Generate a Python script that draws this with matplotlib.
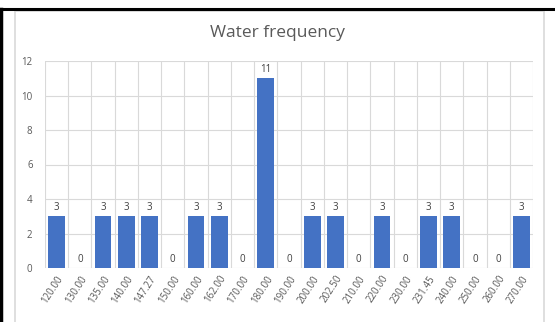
import matplotlib
matplotlib.use("Agg")
import matplotlib.pyplot as plt
import numpy as np
from matplotlib.patches import Rectangle
from matplotlib.lines import Line2D

categories = ["120.00", "130.00", "135.00", "140.00", "147.27", "150.00", "160.00",
              "162.00", "170.00", "180.00", "190.00", "200.00", "202.50", "210.00",
              "220.00", "230.00", "231.45", "240.00", "250.00", "260.00", "270.00"]
counts = [3, 0, 3, 3, 3, 0, 3, 3, 0, 11, 0, 3, 3, 0, 3, 0, 3, 3, 0, 0, 3]

plt.rcParams['font.family'] = ['Open Sans', 'DejaVu Sans']

W, H = 555, 322
fig = plt.figure(figsize=(W / 100, H / 100), dpi=100)
fig.patch.set_facecolor("white")

# outer black frame bits and the grey chart border
fig.add_artist(Line2D([0, 1], [1 - 8.5 / H, 1 - 8.5 / H], color="black", lw=2.2, transform=fig.transFigure))
fig.add_artist(Line2D([1 / W, 1 / W], [0, 1 - 8.5 / H], color="black", lw=2.5, transform=fig.transFigure))
fig.add_artist(Rectangle((14.5 / W, -0.05), (543.5 - 14.5) / W, 1 - 10.5 / H + 0.05,
                         fill=False, edgecolor="#d9d9d9", lw=1.2, transform=fig.transFigure))

ax = fig.add_axes([45 / W, (H - 268) / H, (533 - 45) / W, (268 - 61) / H])
x = np.arange(len(categories))
bars = ax.bar(x, counts, width=0.72, color="#4472C4", zorder=3)

ax.set_xlim(-0.5, len(categories) - 0.5)
ax.set_ylim(0, 12)
ax.set_yticks(range(0, 13, 2))
ax.set_xticks(x)
ax.set_xticklabels(categories, rotation=57, ha="right", rotation_mode="anchor",
                   fontsize=7, color="#595959")
ax.tick_params(axis="y", labelsize=7, labelcolor="#595959", length=0, pad=9)
ax.tick_params(axis="x", length=0, pad=4)

# gridlines: horizontal every 2, vertical between categories
for yv in range(0, 13, 2):
    ax.axhline(yv, color="#d9d9d9", lw=0.8, zorder=1)
for xv in np.arange(-0.5, len(categories), 1):
    ax.axvline(xv, color="#d9d9d9", lw=0.8, zorder=1)
for s in ax.spines.values():
    s.set_visible(False)

for xi, c in zip(x, counts):
    ax.text(xi, c + 0.2, str(c), ha="center", va="bottom", fontsize=7, color="#404040", zorder=4)

fig.text(278 / W, 1 - 33 / H, "Water frequency", ha="center", va="center",
         fontsize=12.5, color="#595959")

fig.savefig("out.png", dpi=100)
